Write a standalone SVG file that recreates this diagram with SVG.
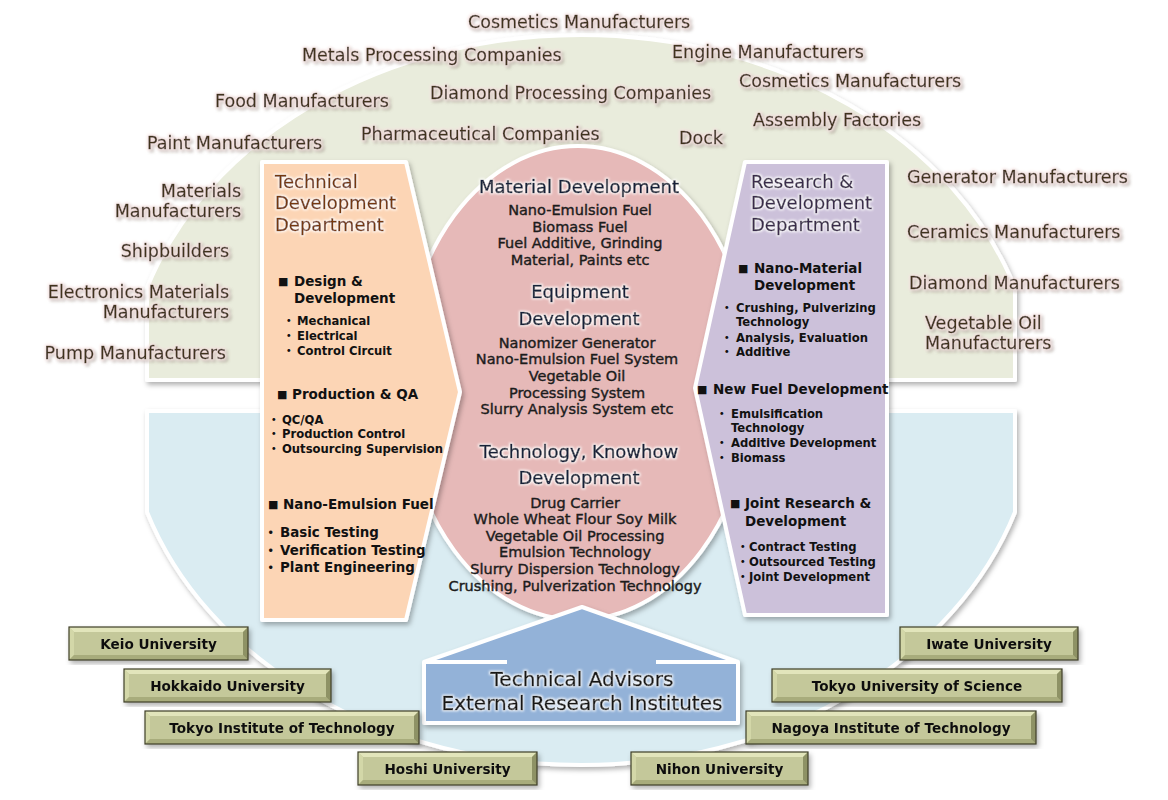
<svg xmlns="http://www.w3.org/2000/svg" width="1168" height="800" viewBox="0 0 1168 800">
<defs>
<style>
text{font-family:"DejaVu Sans","Noto Sans CJK JP",sans-serif}
.lbl{font-size:17.5px;fill:#40321f;stroke:#40321f;stroke-width:0.35}
.ttlL{font-size:18px;fill:#76390d;stroke:#76390d;stroke-width:0.4}
.ttlR{font-size:18px;fill:#3a2c4c;stroke:#3a2c4c;stroke-width:0.4}
.itm{font-weight:bold;font-size:13.5px;fill:#111}
.sq{font-size:11px;fill:#111}
.sub{font-weight:bold;font-size:11.6px;fill:#111}
.big{font-weight:bold;font-size:13.4px;fill:#111}
.ch{font-size:18px;fill:#14203a;text-anchor:middle;stroke:#14203a;stroke-width:0.6}
.cs{font-size:14.5px;fill:#1c1c1c;text-anchor:middle;stroke:#1c1c1c;stroke-width:0.4}
.adv{font-size:20px;fill:#161616;text-anchor:middle;stroke:#161616;stroke-width:0.55}
.uni{font-weight:bold;font-size:13.6px;text-anchor:middle;fill:#111}
.wb{stroke:#fff;stroke-width:4;stroke-linejoin:round}
.face{fill:#c4c89a}
.bt{fill:#e2e5bb}
.bl{fill:#d3d7a8}
.bb{fill:#a8ac7b}
.br{fill:#8e9265}
.ol{fill:none;stroke:#3f3f28;stroke-width:1.2}
</style>
<filter id="sh" x="-10%" y="-10%" width="125%" height="125%">
<feDropShadow dx="2" dy="3" stdDeviation="2.5" flood-color="#000" flood-opacity="0.3"/>
</filter>
<filter id="lglow" filterUnits="userSpaceOnUse" x="0" y="0" width="1168" height="800">
<feMorphology in="SourceAlpha" operator="dilate" radius="1.2" result="d"/>
<feGaussianBlur in="d" stdDeviation="1.5" result="b"/>
<feFlood flood-color="#f6e2e0"/>
<feComposite in2="b" operator="in" result="glow"/>
<feOffset in="b" dx="2" dy="2" result="o"/>
<feFlood flood-color="#7a6a60" flood-opacity="0.45"/>
<feComposite in2="o" operator="in" result="shadow"/>
<feMerge><feMergeNode in="shadow"/><feMergeNode in="glow"/><feMergeNode in="SourceGraphic"/></feMerge>
</filter>
<filter id="wglow" filterUnits="userSpaceOnUse" x="0" y="0" width="1168" height="800">
<feMorphology in="SourceAlpha" operator="dilate" radius="1.3" result="d"/>
<feGaussianBlur in="d" stdDeviation="0.8" result="b"/>
<feFlood flood-color="#ffffff" flood-opacity="0.9"/>
<feComposite in2="b" operator="in" result="glow"/>
<feMerge><feMergeNode in="glow"/><feMergeNode in="SourceGraphic"/></feMerge>
</filter>
</defs>
<rect width="1168" height="800" fill="#fff"/>

<g id="background" filter="url(#sh)">
<path id="customers-area" class="wb" fill="#e9ecdc" d="M147,380 L147,288 A456,365 0 0 1 1015,288 L1015,380 Z"/>
<path id="partners-area" class="wb" fill="#daecf2" d="M147,411 L147,512 A456,365 0 0 0 1015,512 L1015,411 Z"/>
</g>

<g id="labels" filter="url(#lglow)">
<g id="lbl-cosmetics1"><text class="lbl" x="468" y="28">Cosmetics Manufacturers</text></g>
<g id="lbl-metals"><text class="lbl" x="302" y="61">Metals Processing Companies</text></g>
<g id="lbl-engine"><text class="lbl" x="672" y="58">Engine Manufacturers</text></g>
<g id="lbl-cosmetics2"><text class="lbl" x="739" y="87">Cosmetics Manufacturers</text></g>
<g id="lbl-food"><text class="lbl" x="215" y="107">Food Manufacturers</text></g>
<g id="lbl-diamondproc"><text class="lbl" x="430" y="99">Diamond Processing Companies</text></g>
<g id="lbl-assembly"><text class="lbl" x="753" y="126">Assembly Factories</text></g>
<g id="lbl-pharma"><text class="lbl" x="361" y="140">Pharmaceutical Companies</text></g>
<g id="lbl-dock"><text class="lbl" x="679" y="144">Dock</text></g>
<g id="lbl-paint"><text class="lbl" x="147" y="149">Paint Manufacturers</text></g>
<g id="lbl-materials"><text class="lbl" x="241" y="197" text-anchor="end">Materials</text><text class="lbl" x="241" y="217" text-anchor="end">Manufacturers</text></g>
<g id="lbl-ship"><text class="lbl" x="229" y="257" text-anchor="end">Shipbuilders</text></g>
<g id="lbl-electronics"><text class="lbl" x="229" y="298" text-anchor="end">Electronics Materials</text><text class="lbl" x="229" y="318" text-anchor="end">Manufacturers</text></g>
<g id="lbl-pump"><text class="lbl" x="226" y="359" text-anchor="end">Pump Manufacturers</text></g>
<g id="lbl-generator"><text class="lbl" x="907" y="183">Generator Manufacturers</text></g>
<g id="lbl-ceramics"><text class="lbl" x="907" y="238">Ceramics Manufacturers</text></g>
<g id="lbl-diamond"><text class="lbl" x="909" y="289">Diamond Manufacturers</text></g>
<g id="lbl-vegoil"><text class="lbl" x="925" y="329">Vegetable Oil</text><text class="lbl" x="925" y="349">Manufacturers</text></g>
</g>

<g id="center" >
<ellipse class="wb" filter="url(#sh)" cx="578" cy="383" rx="175" ry="237" fill="#e6b9b8"/>
<g filter="url(#wglow)">
<text class="ch" x="579" y="193">Material Development</text>
<text class="ch" x="580" y="298">Equipment</text>
<text class="ch" x="579" y="325">Development</text>
<text class="ch" x="579" y="458">Technology, Knowhow</text>
<text class="ch" x="579" y="484">Development</text>
</g>
<text class="cs" x="580" y="215">Nano-Emulsion Fuel</text>
<text class="cs" x="580" y="232">Biomass Fuel</text>
<text class="cs" x="580" y="248">Fuel Additive, Grinding</text>
<text class="cs" x="580" y="265">Material, Paints etc</text>
<text class="cs" x="577" y="348">Nanomizer Generator</text>
<text class="cs" x="577" y="364">Nano-Emulsion Fuel System</text>
<text class="cs" x="577" y="381">Vegetable Oil</text>
<text class="cs" x="577" y="398">Processing System</text>
<text class="cs" x="577" y="414">Slurry Analysis System etc</text>
<text class="cs" x="575" y="508">Drug Carrier</text>
<text class="cs" x="575" y="524">Whole Wheat Flour Soy Milk</text>
<text class="cs" x="575" y="541">Vegetable Oil Processing</text>
<text class="cs" x="575" y="557">Emulsion Technology</text>
<text class="cs" x="575" y="574">Slurry Dispersion Technology</text>
<text class="cs" x="575" y="591">Crushing, Pulverization Technology</text>
</g>

<g id="tech-dept">
<polygon class="wb" filter="url(#sh)" fill="#fcd5b5" points="262,162 406,162 460,392 406,620 262,620"/>
<g filter="url(#wglow)">
<text class="ttlL" x="275" y="188">Technical</text>
<text class="ttlL" x="275" y="209">Development</text>
<text class="ttlL" x="275" y="231">Department</text>
</g>
<text class="sq" x="278" y="285">■</text>
<text class="itm" x="294" y="286">Design &amp;</text>
<text class="itm" x="294" y="303">Development</text>
<text class="sub" y="325"><tspan x="283">・</tspan><tspan x="297">Mechanical</tspan></text>
<text class="sub" y="340"><tspan x="283">・</tspan><tspan x="297">Electrical</tspan></text>
<text class="sub" y="355"><tspan x="283">・</tspan><tspan x="297">Control Circuit</tspan></text>
<text class="sq" x="277" y="398">■</text>
<text class="itm" x="292" y="399">Production &amp; QA</text>
<text class="sub" y="424"><tspan x="268">・</tspan><tspan x="282">QC/QA</tspan></text>
<text class="sub" y="438"><tspan x="268">・</tspan><tspan x="282">Production Control</tspan></text>
<text class="sub" y="453"><tspan x="268">・</tspan><tspan x="282">Outsourcing Supervision</tspan></text>
<text class="sq" x="268" y="508">■</text>
<text class="itm" x="283" y="509">Nano-Emulsion Fuel</text>
<text class="big" y="537"><tspan x="264">・</tspan><tspan x="280">Basic Testing</tspan></text>
<text class="big" y="555"><tspan x="264">・</tspan><tspan x="280">Verification Testing</tspan></text>
<text class="big" y="572"><tspan x="264">・</tspan><tspan x="280">Plant Engineering</tspan></text>
</g>

<g id="rd-dept">
<polygon class="wb" filter="url(#sh)" fill="#ccc1da" points="745,162 887,162 887,615 745,615 695,388"/>
<g filter="url(#wglow)">
<text class="ttlR" x="751" y="188">Research &amp;</text>
<text class="ttlR" x="751" y="209">Development</text>
<text class="ttlR" x="751" y="231">Department</text>
</g>
<text class="sq" x="738" y="272">■</text>
<text class="itm" x="754" y="273">Nano-Material</text>
<text class="itm" x="754" y="290">Development</text>
<text class="sub" y="312"><tspan x="721">・</tspan><tspan x="736">Crushing, Pulverizing</tspan></text>
<text class="sub" x="736" y="326">Technology</text>
<text class="sub" y="342"><tspan x="721">・</tspan><tspan x="736">Analysis, Evaluation</tspan></text>
<text class="sub" y="356"><tspan x="721">・</tspan><tspan x="736">Additive</tspan></text>
<text class="sq" x="697" y="393">■</text>
<text class="itm" x="713" y="394">New Fuel Development</text>
<text class="sub" y="418"><tspan x="716">・</tspan><tspan x="731">Emulsification</tspan></text>
<text class="sub" x="731" y="432">Technology</text>
<text class="sub" y="447"><tspan x="716">・</tspan><tspan x="731">Additive Development</tspan></text>
<text class="sub" y="462"><tspan x="716">・</tspan><tspan x="731">Biomass</tspan></text>
<text class="sq" x="730" y="507">■</text>
<text class="itm" x="745" y="508">Joint Research &amp;</text>
<text class="itm" x="745" y="526">Development</text>
<text class="sub" y="551"><tspan x="737">・</tspan><tspan x="749">Contract Testing</tspan></text>
<text class="sub" y="566"><tspan x="737">・</tspan><tspan x="749">Outsourced Testing</tspan></text>
<text class="sub" y="581"><tspan x="737">・</tspan><tspan x="749">Joint Development</tspan></text>
</g>

<g id="advisors">
<path class="wb" filter="url(#sh)" fill="#93b2d8" d="M424,662 L582,607 L738,662 L738,723 L424,723 Z"/>
<path d="M424,662 H507 M656,662 H738" stroke="#fff" stroke-width="4"/>
<g filter="url(#wglow)">
<text class="adv" x="582" y="686">Technical Advisors</text>
<text class="adv" x="582" y="710">External Research Institutes</text>
</g>
</g>

<g id="connectors"></g>

<g id="keio" filter="url(#sh)">
<rect class="face" x="69" y="627" width="179" height="33"/>
<polygon class="bt" points="69,627 248,627 243,632 74,632"/>
<polygon class="bl" points="69,627 74,632 74,655 69,660"/>
<polygon class="bb" points="69,660 74,655 243,655 248,660"/>
<polygon class="br" points="248,627 248,660 243,655 243,632"/>
<rect class="ol" x="69" y="627" width="179" height="33"/>
<text class="uni" x="158.5" y="648.5">Keio University</text>
</g>
<g id="hokkaido" filter="url(#sh)">
<rect class="face" x="124" y="669" width="207" height="33"/>
<polygon class="bt" points="124,669 331,669 326,674 129,674"/>
<polygon class="bl" points="124,669 129,674 129,697 124,702"/>
<polygon class="bb" points="124,702 129,697 326,697 331,702"/>
<polygon class="br" points="331,669 331,702 326,697 326,674"/>
<rect class="ol" x="124" y="669" width="207" height="33"/>
<text class="uni" x="227.5" y="690.5">Hokkaido University</text>
</g>
<g id="tokyo-tech" filter="url(#sh)">
<rect class="face" x="145" y="711" width="274" height="33"/>
<polygon class="bt" points="145,711 419,711 414,716 150,716"/>
<polygon class="bl" points="145,711 150,716 150,739 145,744"/>
<polygon class="bb" points="145,744 150,739 414,739 419,744"/>
<polygon class="br" points="419,711 419,744 414,739 414,716"/>
<rect class="ol" x="145" y="711" width="274" height="33"/>
<text class="uni" x="282" y="732.5">Tokyo Institute of Technology</text>
</g>
<g id="hoshi" filter="url(#sh)">
<rect class="face" x="358" y="752" width="179" height="33"/>
<polygon class="bt" points="358,752 537,752 532,757 363,757"/>
<polygon class="bl" points="358,752 363,757 363,780 358,785"/>
<polygon class="bb" points="358,785 363,780 532,780 537,785"/>
<polygon class="br" points="537,752 537,785 532,780 532,757"/>
<rect class="ol" x="358" y="752" width="179" height="33"/>
<text class="uni" x="447.5" y="773.5">Hoshi University</text>
</g>
<g id="iwate" filter="url(#sh)">
<rect class="face" x="900" y="627" width="178" height="33"/>
<polygon class="bt" points="900,627 1078,627 1073,632 905,632"/>
<polygon class="bl" points="900,627 905,632 905,655 900,660"/>
<polygon class="bb" points="900,660 905,655 1073,655 1078,660"/>
<polygon class="br" points="1078,627 1078,660 1073,655 1073,632"/>
<rect class="ol" x="900" y="627" width="178" height="33"/>
<text class="uni" x="989" y="648.5">Iwate University</text>
</g>
<g id="tokyo-science" filter="url(#sh)">
<rect class="face" x="772" y="669" width="290" height="33"/>
<polygon class="bt" points="772,669 1062,669 1057,674 777,674"/>
<polygon class="bl" points="772,669 777,674 777,697 772,702"/>
<polygon class="bb" points="772,702 777,697 1057,697 1062,702"/>
<polygon class="br" points="1062,669 1062,702 1057,697 1057,674"/>
<rect class="ol" x="772" y="669" width="290" height="33"/>
<text class="uni" x="917" y="690.5">Tokyo University of Science</text>
</g>
<g id="nagoya" filter="url(#sh)">
<rect class="face" x="746" y="711" width="290" height="33"/>
<polygon class="bt" points="746,711 1036,711 1031,716 751,716"/>
<polygon class="bl" points="746,711 751,716 751,739 746,744"/>
<polygon class="bb" points="746,744 751,739 1031,739 1036,744"/>
<polygon class="br" points="1036,711 1036,744 1031,739 1031,716"/>
<rect class="ol" x="746" y="711" width="290" height="33"/>
<text class="uni" x="891" y="732.5">Nagoya Institute of Technology</text>
</g>
<g id="nihon" filter="url(#sh)">
<rect class="face" x="631" y="752" width="177" height="33"/>
<polygon class="bt" points="631,752 808,752 803,757 636,757"/>
<polygon class="bl" points="631,752 636,757 636,780 631,785"/>
<polygon class="bb" points="631,785 636,780 803,780 808,785"/>
<polygon class="br" points="808,752 808,785 803,780 803,757"/>
<rect class="ol" x="631" y="752" width="177" height="33"/>
<text class="uni" x="719.5" y="773.5">Nihon University</text>
</g>
</svg>
